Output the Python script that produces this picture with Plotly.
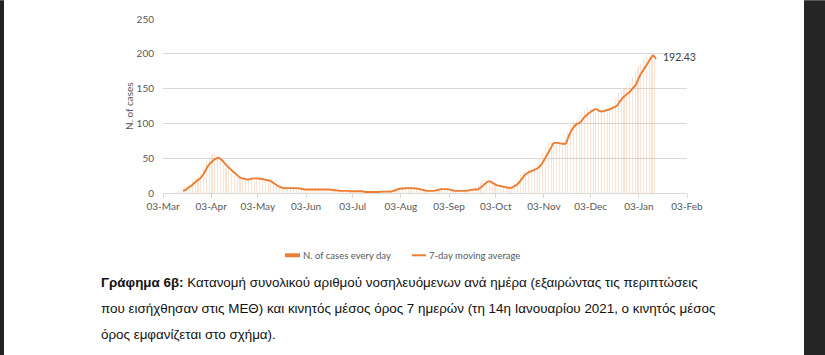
import plotly.graph_objects as go
import pandas as pd

# ---------------- data ----------------
start_date = "2020-03-10"
end_date = "2021-01-14"

daily_mar = [1, 2, 2, 3, 4, 5, 6, 8, 10, 12, 13, 15, 17, 19, 21, 23, 25, 28, 33, 38, 43, 46]
daily_apr = [49, 52, 54, 56, 57, 55, 52, 50, 47, 44, 41, 38, 35, 33, 31, 29, 27, 25, 23, 22,
             21, 20, 19, 20, 19, 18, 20, 21, 22, 21]
daily_may = [22, 21, 22, 20, 21, 20, 19, 18, 19, 17, 15, 14, 12, 10, 9, 8, 7, 7, 7, 7,
             8, 7, 7, 6, 7, 8, 7, 7, 6, 6, 5]
daily_jun = [5, 5, 5, 6, 5, 5, 5, 5, 6, 5, 5, 5, 5, 5, 5, 4, 4, 4, 4, 4,
             3, 3, 3, 3, 3, 3, 3, 3, 3, 2]
daily_jul = [3, 3, 2, 2, 2, 3, 2, 2, 2, 2, 1, 1, 2, 1, 1, 1, 2, 2, 2, 2,
             2, 2, 2, 3, 3, 4, 4, 5, 6, 7, 7]
daily_aug = [7, 7, 7, 7, 6, 7, 7, 7, 7, 6, 6, 5, 5, 4, 4, 3, 3, 3, 3, 3,
             3, 3, 4, 4, 5, 5, 6, 6, 6, 5, 5]
daily_sep = [5, 5, 4, 4, 3, 3, 3, 3, 3, 3, 3, 4, 4, 4, 5, 5, 5, 5, 6, 8,
             10, 12, 15, 17, 19, 20, 19, 17, 16, 14]
daily_oct = [12, 11, 10, 9, 9, 8, 8, 8, 7, 7, 7, 8, 9, 11, 14, 17, 20, 23, 26, 29,
             30, 31, 32, 33, 34, 35, 36, 38, 41, 45, 49]
daily_nov = [54, 58, 62, 66, 70, 72, 73, 74, 73, 72, 71, 71, 70, 70, 71, 72, 80, 88, 94, 98,
             101, 103, 104, 105, 107, 110, 114, 117, 119, 122]
daily_dec = [124, 125, 122, 120, 118, 117, 116, 117, 118, 119, 119, 120, 121, 122, 123, 124, 126, 130, 135, 140,
             143, 145, 147, 149, 151, 153, 155, 158, 162, 167, 172]
daily_jan = [176, 180, 183, 186, 189, 192, 195, 199, 200, 197, 194, 191, 189, 172]

ma_mar = [None, None, None, None, None, None, 3, 4, 5, 7, 9, 10, 12, 14, 16, 18, 19.5, 21, 24, 27, 31, 35]
ma_apr = [39, 42, 44, 46, 48, 49.5, 50.5, 50.5, 49, 47, 44.5, 42, 39.5, 37, 35, 33, 31, 29, 27, 25,
          23, 22, 21, 20.5, 20, 19.5, 19.5, 20, 20.5, 21]
ma_may = [21, 21, 21, 20.5, 20.5, 20, 19.5, 19, 18.5, 18, 17.5, 16, 14.5, 13, 11.5, 10, 9, 8, 7.5, 7,
          7, 7, 7, 7, 7, 7, 7, 7, 7, 6.5, 6]
ma_jun = [5.5, 5, 5, 5, 5, 5, 5, 5, 5, 5, 5, 5, 5, 5, 5, 5, 5, 5, 4.5, 4.5,
          4, 4, 3.5, 3.5, 3, 3, 3, 3, 3, 3]
ma_jul = [2.5, 2.5, 2.5, 2.5, 2.5, 2.5, 2.5, 2.5, 2.5, 2, 1.5, 1.5, 1.5, 1.5, 1.5, 1.5, 1.5, 1.5, 1.5, 1.5,
          2, 2, 2, 2, 2, 2, 2, 2, 3, 3.5, 4.5]
ma_aug = [5.5, 6, 6.5, 6.5, 6.5, 7, 7, 7, 7, 7, 7, 6.5, 6.5, 6, 5.5, 5, 4.5, 4, 3.5, 3,
          3, 3, 3, 3, 3.5, 4, 4.5, 5, 5.5, 5.5, 5.5]
ma_sep = [5.5, 5.5, 5, 4.5, 4, 3.5, 3, 3, 3, 3, 3, 3, 3, 3, 3.5, 4, 4.5, 4.5, 5, 5,
          5, 6, 7.5, 9, 11, 13, 15, 16.5, 17, 16]
ma_oct = [14.5, 13, 12, 11, 10.5, 10, 9.5, 9, 8.5, 8, 7.5, 7.5, 7.5, 8.5, 10, 11, 13, 15, 18, 21,
          24, 26.5, 28, 29.5, 30.5, 31.5, 32.5, 33.5, 34.5, 36, 37.5]
ma_nov = [40, 43, 47, 51, 55, 59, 63, 67, 71, 72, 72, 72, 71.5, 71, 71, 70.5, 71, 76, 82, 87,
          91, 94, 97, 99, 100, 101, 103, 106, 109, 111]
ma_dec = [113, 115, 116.5, 118, 119.5, 120.5, 120, 118.5, 117.5, 117, 117.5, 118, 119, 119.5, 120, 121, 122, 123, 124, 125.5,
          128.5, 132, 135, 137.5, 139.5, 141.5, 143, 145, 147.5, 150, 152.5]
ma_jan = [155, 160, 165, 170, 173.5, 177, 180.5, 184, 187.5, 191, 194.5, 197.5, 196, 192.43]

x_tick_dates = ["2020-03-03", "2020-04-03", "2020-05-03", "2020-06-03", "2020-07-03", "2020-08-03",
                "2020-09-03", "2020-10-03", "2020-11-03", "2020-12-03", "2021-01-03", "2021-02-03"]
x_tick_labels = ["03-Mar", "03-Apr", "03-May", "03-Jun", "03-Jul", "03-Aug",
                 "03-Sep", "03-Oct", "03-Nov", "03-Dec", "03-Jan", "03-Feb"]
y_ticks = [0, 50, 100, 150, 200, 250]

legend_bar = "N. of cases every day"
legend_line = "7-day moving average"
y_title = "N. of cases"
last_label = "192.43"

caption_lines = [
    "<b>Γράφημα 6β:</b> Κατανομή συνολικού αριθμού νοσηλευόμενων ανά ημέρα (εξαιρώντας τις περιπτώσεις",
    "που εισήχθησαν στις ΜΕΘ) και κινητός μέσος όρος 7 ημερών (τη 14η Ιανουαρίου 2021, ο κινητός μέσος",
    "όρος εμφανίζεται στο σχήμα).",
]

# ---------------- build ----------------
dates = pd.date_range(start_date, end_date, freq="D")
daily = daily_mar + daily_apr + daily_may + daily_jun + daily_jul + daily_aug + daily_sep + daily_oct + daily_nov + daily_dec + daily_jan
ma = ma_mar + ma_apr + ma_may + ma_jun + ma_jul + ma_aug + ma_sep + ma_oct + ma_nov + ma_dec + ma_jan
assert len(daily) == len(dates) == len(ma)

W, H = 825, 355
L, R, T, B = 163, 687, 17, 193  # plot area in pixels
pw, ph = R - L, B - T


def px(xp):
    return (xp - L) / pw


def py(yp):
    return (B - yp) / ph


ORANGE = "#ED7D31"
GRID = "#D9D9D9"
TXT = "#595959"
FONT = "Lato, Open Sans, sans-serif"

fig = go.Figure()
fig.add_trace(go.Bar(
    x=dates, y=daily, name=legend_bar,
    marker=dict(color="rgba(237,125,49,0.22)", line=dict(width=0)),
    width=0.4 * 86400000, showlegend=False,
))
fig.add_trace(go.Scatter(
    x=dates, y=ma, name=legend_line, mode="lines",
    line=dict(color=ORANGE, width=1.9, shape="spline", smoothing=0.6),
    showlegend=False, connectgaps=False,
))

annotations = []
# last value label
annotations.append(dict(x=dates[-1], y=ma[-1], xref="x", yref="y", text=last_label,
                        showarrow=False, xanchor="left", yanchor="middle", xshift=5, yshift=2,
                        font=dict(family=FONT, size=10.5, color="#404040")))
# y title
annotations.append(dict(x=px(129), y=py(105), xref="paper", yref="paper", text=y_title,
                        textangle=-90, showarrow=False, xanchor="center", yanchor="middle",
                        font=dict(family=FONT, size=10, color=TXT)))
# legend texts
annotations.append(dict(x=px(301), y=py(256), xref="paper", yref="paper", text=legend_bar,
                        showarrow=False, xanchor="left", yanchor="middle",
                        font=dict(family=FONT, size=9.5, color=TXT)))
annotations.append(dict(x=px(427), y=py(256), xref="paper", yref="paper", text=legend_line,
                        showarrow=False, xanchor="left", yanchor="middle",
                        font=dict(family=FONT, size=9.5, color=TXT)))
# caption
for i, line in enumerate(caption_lines):
    annotations.append(dict(x=px(99), y=py(284 + 26 * i), xref="paper", yref="paper", text=line,
                            showarrow=False, xanchor="left", yanchor="middle", align="left",
                            font=dict(family="Liberation Sans, Arial", size=13.4, color="#111111")))

shapes = [
    # legend symbols
    dict(type="rect", xref="paper", yref="paper", x0=px(285), x1=px(300), y0=py(254), y1=py(258),
         fillcolor=ORANGE, line=dict(width=0)),
    dict(type="line", xref="paper", yref="paper", x0=px(412), x1=px(426), y0=py(256), y1=py(256),
         line=dict(color=ORANGE, width=2)),
    # dark page edges
    dict(type="rect", xref="paper", yref="paper", x0=px(-2), x1=px(4), y0=py(-2), y1=py(H + 2),
         fillcolor="#232323", line=dict(width=0), layer="above"),
    dict(type="rect", xref="paper", yref="paper", x0=px(804), x1=px(W + 2), y0=py(-2), y1=py(H + 2),
         fillcolor="#252525", line=dict(width=0), layer="above"),
]

fig.update_layout(
    width=W, height=H,
    margin=dict(l=L, r=W - R, t=T, b=H - B, pad=0),
    paper_bgcolor="white", plot_bgcolor="white",
    bargap=0, barmode="overlay",
    annotations=annotations, shapes=shapes,
    font=dict(family=FONT, size=10, color=TXT),
    xaxis=dict(
        type="date", range=["2020-03-03", "2021-02-03"],
        tickmode="array", tickvals=x_tick_dates, ticktext=x_tick_labels,
        showgrid=False, showline=True, linecolor=GRID, linewidth=1,
        ticks="outside", ticklen=4, tickcolor=GRID, tickwidth=1,
        tickfont=dict(family=FONT, size=10, color=TXT), zeroline=False,
    ),
    yaxis=dict(
        range=[0, 250], tickmode="array", tickvals=y_ticks,
        showgrid=True, gridcolor=GRID, gridwidth=1, showline=False, zeroline=False,
        ticks="", ticklabelstandoff=8,
        tickfont=dict(family=FONT, size=10, color=TXT),
    ),
)

fig.write_html("out.html")
